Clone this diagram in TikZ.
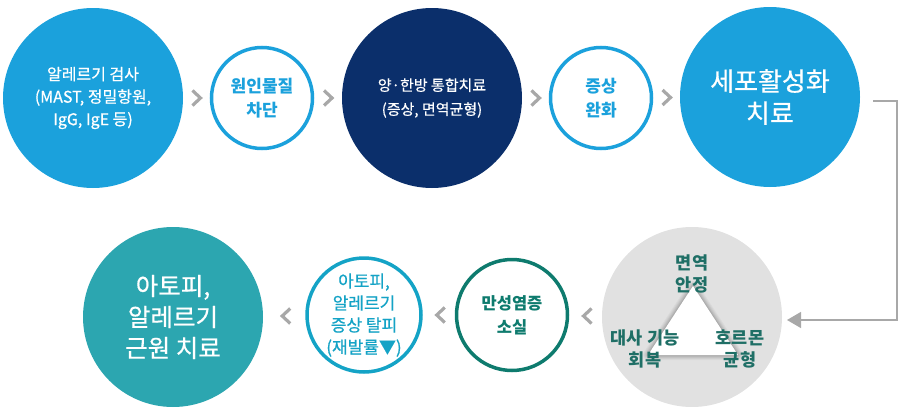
\documentclass[tikz,border=0pt]{standalone}
\usepackage{fontspec}
\setmainfont{Noto Sans CJK KR}
\newfontfamily\medfont[FakeBold=0.6]{Noto Sans CJK KR}
\usetikzlibrary{arrows.meta,calc}
\definecolor{cblue}{HTML}{1BA1DC}
\definecolor{cnavy}{HTML}{0B2F6B}
\definecolor{cteal}{HTML}{2CA6B0}
\definecolor{ccyan}{HTML}{14A3C6}
\definecolor{cgreen}{HTML}{0E7B6E}
\definecolor{ctri}{HTML}{1F6F66}
\definecolor{cgray}{HTML}{E1E1E1}
\definecolor{cchev}{HTML}{A8A8A8}
\tikzset{
  bigc/.style={circle, inner sep=0pt, minimum size=180pt, text=white, align=center},
  ringc/.style={circle, inner sep=0pt, line width=3.5pt, fill=white, align=center},
  chev/.style={draw=cchev, line width=3.2pt, line cap=butt, line join=miter},
  conn/.style={draw=cchev, line width=1.3pt},
  trilabel/.style={text=ctri, align=center, font={\fontsize{17.5}{22}\selectfont\bfseries}},
}
\begin{document}
\begin{tikzpicture}[x=1pt,y=-1pt]
\useasboundingbox (0,0) rectangle (900,415);
% top row
\node[bigc, fill=cblue, font={\medfont\fontsize{16}{22.5}\selectfont}] (n1) at (93,98) {알레르기 검사\\(MAST, 정밀항원,\\IgG, IgE 등)};
\node[ringc, draw=cblue, text=cblue, minimum size=101pt, font={\fontsize{17}{24}\selectfont\bfseries}] (n2) at (262,98) {원인물질\\차단};
\node[bigc, fill=cnavy, font={\medfont\fontsize{15}{24}\selectfont}] (n3) at (432,98) {양·한방 통합치료\\(증상, 면역균형)};
\node[ringc, draw=cblue, text=cblue, minimum size=101pt, font={\fontsize{17}{24}\selectfont\bfseries}] (n4) at (601,98) {증상\\완화};
\node[bigc, fill=cblue, font={\medfont\fontsize{26}{32}\selectfont}] (n5) at (770,97) {세포활성화\\치료};
% bottom row
\node[bigc, fill=cgray] (n6) at (692,317) {};
\foreach \w/\o in {10/0.03, 8/0.04, 6/0.05, 4/0.06, 2/0.07}{
  \draw[black, draw opacity=\o, line width=\w pt, line join=round] (693,286) -- (738,355) -- (648,355) -- cycle;
}
\fill[white] (693,286) -- (738,355) -- (648,355) -- cycle;
\node[trilabel] (t1) at (692,274) {면역\\안정};
\node[trilabel] (t2) at (645,349) {대사 기능\\회복};
\node[trilabel] (t3) at (740,349) {호르몬\\균형};
\node[ringc, draw=cgreen, text=cgreen, minimum size=111pt, font={\fontsize{16.5}{24}\selectfont\bfseries}] (n7) at (512,315) {만성염증\\소실};
\node[ringc, draw=ccyan, text=ccyan, minimum size=114pt, font={\medfont\fontsize{17}{22}\selectfont}] (n8) at (364,315) {아토피,\\알레르기\\증상 탈피\\(재발률▼)};
\node[bigc, fill=cteal, font={\medfont\fontsize{24.5}{31}\selectfont}] (n9) at (173,317) {아토피,\\알레르기\\근원 치료};
% chevrons right
\foreach \a/\b/\nm in {n1/n2/r1, n2/n3/r2, n3/n4/r3, n4/n5/r4}{
  \coordinate (\nm) at ($(\a.east)!0.5!(\b.west)$);
  \draw[chev] ([xshift=-4pt,yshift=7.5pt]\nm) -- ([xshift=4pt]\nm) -- ([xshift=-4pt,yshift=-7.5pt]\nm);
}
% chevrons left
\foreach \a/\b/\nm in {n9/n8/l1, n8/n7/l2, n7/n6/l3}{
  \coordinate (\nm) at ($(\a.east)!0.5!(\b.west)+(2,0)$);
  \draw[chev] ([xshift=4pt,yshift=7.5pt]\nm) -- ([xshift=-4pt]\nm) -- ([xshift=4pt,yshift=-7.5pt]\nm);
}
% connector
\coordinate (k1) at (873,101);
\coordinate (k2) at (897,320);
\coordinate (k3) at (787,320);
\draw[conn, -{Triangle[length=14pt, width=16pt]}] (k1) -| (k2) -- (k3);
\end{tikzpicture}
\end{document}
